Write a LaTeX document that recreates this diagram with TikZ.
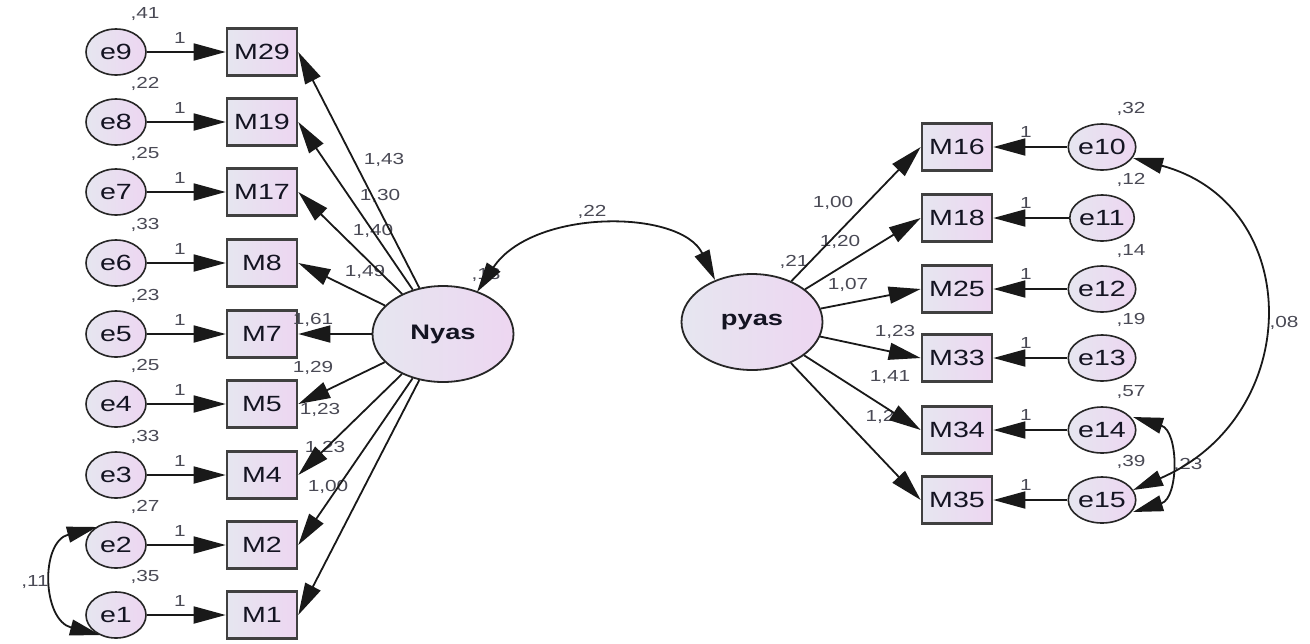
\documentclass[tikz,border=0pt]{standalone}
\usepackage{fontspec}
\setmainfont{Liberation Sans}[FakeStretch=1.3]
\usetikzlibrary{arrows.meta,shapes.geometric}
\definecolor{shA}{HTML}{E6E6F0}
\definecolor{shB}{HTML}{EDD6F1}
\definecolor{txt}{HTML}{141422}
\definecolor{lbl}{HTML}{4A4A55}
\begin{document}
\begin{tikzpicture}[x=0.5pt,y=-0.5pt,
  obs/.style={rectangle, draw=black!75, line width=1.3pt, left color=shA, right color=shB,
    minimum width=35pt, minimum height=23.5pt, inner sep=0pt,
    font=\fontsize{11}{12}\selectfont, text=txt},
  err/.style={ellipse, draw=black!85, line width=0.8pt, left color=shA, right color=shB,
    minimum width=30pt, minimum height=23pt, inner sep=0pt,
    font=\fontsize{11}{12}\selectfont, text=txt},
  lat/.style={ellipse, draw=black!85, line width=0.9pt, left color=shA, right color=shB,
    minimum width=70.5pt, minimum height=48pt, inner sep=0pt,
    font=\bfseries\fontsize{10.5}{12}\selectfont, text=txt},
  lab/.style={font=\fontsize{8}{9}\selectfont, text=lbl, inner sep=0pt},
  arr/.style={draw=black!90, line width=0.9pt, -{Triangle[length=16pt,width=8.5pt]}},
  cov/.style={draw=black!90, line width=0.9pt, {Triangle[length=15pt,width=8pt]}-{Triangle[length=15pt,width=8pt]}}
]
\useasboundingbox (0,0) rectangle (1310,643);
\fill[white] (0,0) rectangle (1310,643);

% ---------- left error terms ----------
\node[err] (e9) at (116,52) {e9};
\node[err] (e8) at (116,122) {e8};
\node[err] (e7) at (116,192) {e7};
\node[err] (e6) at (116,263) {e6};
\node[err] (e5) at (116,334) {e5};
\node[err] (e4) at (116,404) {e4};
\node[err] (e3) at (116,475) {e3};
\node[err] (e2) at (116,545) {e2};
\node[err] (e1) at (116,615) {e1};

% ---------- left indicators ----------
\node[obs] (M29) at (262,52) {M29};
\node[obs] (M19) at (262,122) {M19};
\node[obs] (M17) at (262,192) {M17};
\node[obs] (M8) at (262,263) {M8};
\node[obs] (M7) at (262,334) {M7};
\node[obs] (M5) at (262,404) {M5};
\node[obs] (M4) at (262,475) {M4};
\node[obs] (M2) at (262,545) {M2};
\node[obs] (M1) at (262,615) {M1};

% ---------- latents ----------
\node[lat] (Nyas) at (443,334) {Nyas};
\node[lat] (pyas) at (752,322) {pyas};

% ---------- right indicators ----------
\node[obs] (M16) at (957,147) {M16};
\node[obs] (M18) at (957,218) {M18};
\node[obs] (M25) at (957,289) {M25};
\node[obs] (M33) at (957,358) {M33};
\node[obs] (M34) at (957,430) {M34};
\node[obs] (M35) at (957,500) {M35};

% ---------- right error terms ----------
\node[err] (e10) at (1102,147) {e10};
\node[err] (e11) at (1102,218) {e11};
\node[err] (e12) at (1102,289) {e12};
\node[err] (e13) at (1102,358) {e13};
\node[err] (e14) at (1102,430) {e14};
\node[err] (e15) at (1102,500) {e15};

% ---------- variance labels ----------
\node[lab] at (145,14) {,41};
\node[lab] at (145,84) {,22};
\node[lab] at (145,154) {,25};
\node[lab] at (145,225) {,33};
\node[lab] at (145,296) {,23};
\node[lab] at (145,366) {,25};
\node[lab] at (145,437) {,33};
\node[lab] at (145,507) {,27};
\node[lab] at (145,577) {,35};
\node[lab] at (1131,109) {,32};
\node[lab] at (1131,180) {,12};
\node[lab] at (1131,251) {,14};
\node[lab] at (1131,320) {,19};
\node[lab] at (1131,392) {,57};
\node[lab] at (1131,462) {,39};
\node[lab] at (486,275) {,13};
\node[lab] at (794,262) {,21};

% ---------- fixed loadings ----------
\node[lab] at (180,38) {1};
\node[lab] at (180,108) {1};
\node[lab] at (180,178) {1};
\node[lab] at (180,249) {1};
\node[lab] at (180,320) {1};
\node[lab] at (180,390) {1};
\node[lab] at (180,461) {1};
\node[lab] at (180,531) {1};
\node[lab] at (180,601) {1};
\node[lab] at (1026,132) {1};
\node[lab] at (1026,203) {1};
\node[lab] at (1026,274) {1};
\node[lab] at (1026,343) {1};
\node[lab] at (1026,415) {1};
\node[lab] at (1026,485) {1};

% ---------- loading labels ----------
\node[lab] at (384,160) {1,43};
\node[lab] at (380,196) {1,30};
\node[lab] at (373,231) {1,40};
\node[lab] at (365,272) {1,49};
\node[lab] at (313,320) {1,61};
\node[lab] at (313,368) {1,29};
\node[lab] at (320,410) {1,23};
\node[lab] at (325,448) {1,23};
\node[lab] at (328,487) {1,00};
\node[lab] at (833,203) {1,00};
\node[lab] at (840,242) {1,20};
\node[lab] at (848,285) {1,07};
\node[lab] at (895,332) {1,23};
\node[lab] at (890,377) {1,41};
\node[lab] at (880,417) {1,2};

% ---------- covariance labels ----------
\node[lab] at (592,212) {,22};
\node[lab] at (35,582) {,11};
\node[lab] at (1284,323) {,08};
\node[lab] at (1188,465) {,23};

% ---------- paths ----------
\foreach \a/\b in {e9/M29,e8/M19,e7/M17,e6/M8,e5/M7,e4/M5,e3/M4,e2/M2,e1/M1}
  \draw[arr] (\a.east) -- (\b.west);
\foreach \b in {M29,M19,M17,M8,M7,M5,M4,M2,M1}
  \draw[arr] (Nyas) -- (\b.east);
\foreach \b in {M16,M18,M25,M33,M34,M35}
  \draw[arr] (pyas) -- (\b.west);
\foreach \a/\b in {e10/M16,e11/M18,e12/M25,e13/M33,e14/M34,e15/M35}
  \draw[arr] (\a.west) -- (\b.east);

% ---------- covariances ----------
\coordinate (n1) at (477,292);
\coordinate (p1) at (715,280);
\draw[cov] (n1) .. controls (533,208) and (681,209) .. (p1);
\coordinate (a2) at (97,527);
\coordinate (a1) at (100,635);
\draw[cov] (a2) .. controls (40,542) and (42,620) .. (a1);
\coordinate (c10) at (1133,158);
\coordinate (c15) at (1133,490);
\draw[cov] (c10) .. controls (1305,204) and (1305,416) .. (c15);
\coordinate (c14) at (1133,417);
\coordinate (c15b) at (1133,512);
\draw[cov] (c14) .. controls (1179,431) and (1179,498) .. (c15b);
\end{tikzpicture}
\end{document}
